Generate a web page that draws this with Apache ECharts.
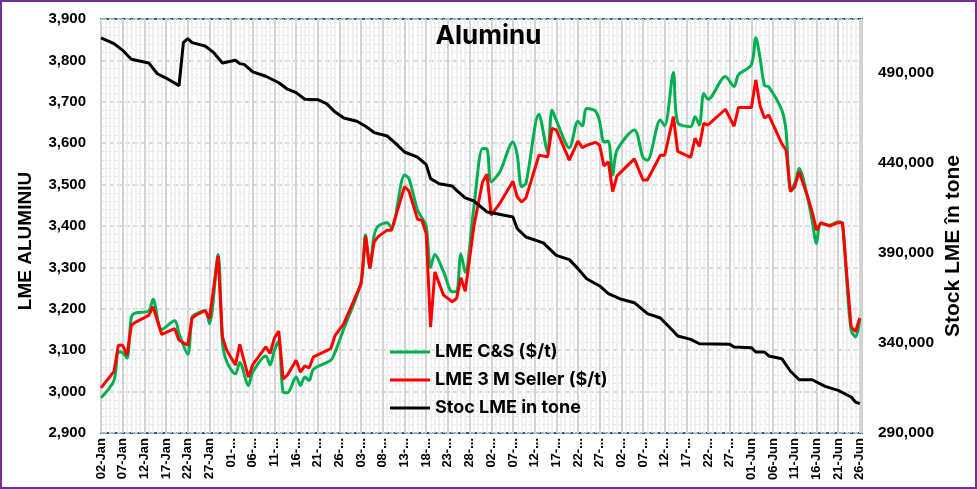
<!DOCTYPE html>
<html>
<head>
<meta charset="utf-8">
<script src="https://cdn.jsdelivr.net/npm/echarts@6/dist/echarts.min.js"></script>
<style>
  html, body { margin: 0; padding: 0; background: #fff; }
  #chart { width: 977px; height: 489px; }
</style>
</head>
<body>
<div id="chart"></div>
<script>
// ---- Data ----
const startDate = '01-02';   // 02-Jan, first day of the date axis
const endDate = '06-26';     // 26-Jun, last day of the date axis

// X tick labels every 5 days, as shown (Excel truncated the middle months)
const tickLabels = [
  '02-Jan','07-Jan','12-Jan','17-Jan','22-Jan','27-Jan',
  '01-...','06-...','11-...','16-...','21-...','26-...',
  '03-...','08-...','13-...','18-...','23-...','28-...',
  '02-...','07-...','12-...','17-...','22-...','27-...',
  '02-...','07-...','12-...','17-...','22-...','27-...',
  '01-Jun','06-Jun','11-Jun','16-Jun','21-Jun','26-Jun'
];

// Price dates (MM-DD) shared by the two price series
const priceDates = [
  '01-02','01-05','01-06','01-07','01-08','01-09','01-10','01-13','01-14','01-16',
  '01-19','01-20','01-22','01-23','01-24','01-26','01-27','01-29','01-30','01-31',
  '02-02','02-03','02-05','02-06','02-09','02-10','02-11','02-12','02-13','02-14',
  '02-16','02-17','02-18','02-19','02-20','02-24','02-25','02-27','03-03','03-04',
  '03-05','03-06','03-07','03-09','03-10','03-13','03-14','03-16','03-17','03-18',
  '03-19','03-20','03-22','03-24','03-25','03-26','03-27','03-29','03-31','04-01',
  '04-02','04-04','04-07','04-08','04-09','04-10','04-13','04-15','04-16','04-17',
  '04-20','04-22','04-23','04-24','04-26','04-27','04-28','04-29','04-30','05-01',
  '05-05','05-07','05-08','05-11','05-12','05-14','05-15','05-18','05-19','05-20',
  '05-21','05-22','05-26','05-28','05-29','06-01','06-02','06-03','06-04','06-05',
  '06-08','06-09','06-10','06-11','06-12','06-14','06-15','06-16','06-17','06-19',
  '06-21','06-22','06-23','06-24','06-25','06-26'
];

// LME C&S ($/t)
const csValues = [
  2985,3027,3096,3094,3081,3180,3190,3195,3223,3150,
  3171,3140,3090,3180,3188,3196,3164,3331,3120,3072,
  3043,3070,3015,3047,3086,3064,3100,3122,2999,2997,
  3035,3015,3035,3027,3054,3076,3096,3152,3265,3378,
  3300,3378,3400,3408,3394,3523,3515,3438,3420,3400,
  3300,3331,3290,3241,3241,3333,3288,3446,3587,3586,
  3507,3531,3603,3571,3495,3503,3670,3579,3680,3655,
  3589,3653,3642,3684,3678,3652,3603,3605,3523,3583,
  3632,3565,3559,3656,3642,3771,3650,3640,3664,3644,
  3720,3706,3761,3737,3765,3790,3855,3805,3740,3736,
  3680,3628,3487,3503,3539,3466,3414,3358,3406,3402,
  3410,3406,3265,3148,3132,3175
];

// LME 3 M Seller ($/t)
const m3Values = [
  3009,3049,3112,3112,3088,3160,3168,3184,3205,3138,
  3152,3124,3112,3178,3185,3196,3176,3328,3132,3100,
  3064,3114,3035,3065,3108,3092,3130,3146,3030,3040,
  3076,3047,3062,3057,3084,3104,3136,3164,3261,3376,
  3297,3362,3375,3390,3390,3495,3485,3416,3414,3382,
  3156,3289,3233,3217,3225,3275,3242,3400,3507,3525,
  3426,3455,3508,3470,3458,3468,3571,3567,3636,3632,
  3559,3605,3589,3595,3602,3595,3545,3555,3483,3521,
  3562,3511,3511,3571,3571,3664,3580,3566,3612,3592,
  3648,3644,3682,3641,3686,3686,3753,3690,3661,3668,
  3599,3583,3483,3495,3531,3470,3434,3390,3408,3400,
  3408,3408,3281,3156,3145,3178
];

// Stoc LME in tone (right axis)
const stockDates = [
  '01-02','01-05','01-07','01-09','01-13','01-15','01-17','01-20','01-21','01-22',
  '01-23','01-26','01-28','01-30','02-02','02-03','02-04','02-06','02-09','02-12',
  '02-14','02-16','02-18','02-21','02-23','02-25','02-27','03-02','03-04','03-06',
  '03-09','03-11','03-13','03-16','03-18','03-19','03-21','03-24','03-25','03-27',
  '03-29','04-01','04-03','04-07','04-08','04-10','04-14','04-17','04-20','04-22',
  '04-24','04-27','04-29','05-02','05-05','05-08','05-11','05-14','05-15','05-18',
  '05-20','05-27','05-28','06-01','06-02','06-04','06-05','06-08','06-10','06-12',
  '06-15','06-18','06-21','06-24','06-25','06-26'
];
const stockValues = [
  509500,506300,502600,497600,495600,489600,487200,483000,506900,509100,
  506900,505000,501300,495600,497100,495200,494800,490600,488200,484600,
  481000,479100,475400,475200,473000,468300,465000,463200,460400,456900,
  455000,450800,446100,443300,439100,431300,428500,427200,424800,420600,
  418900,412800,411900,410000,403500,398900,395600,388700,386300,381300,
  375700,371700,367400,364300,362400,356300,353900,346500,343900,342000,
  339600,339300,337800,337400,335000,335000,332800,331300,324300,319600,
  319600,315900,313700,310000,307200,306300
];

const seriesNames = ['LME C&S ($/t)', 'LME 3 M Seller ($/t)', 'Stoc LME in tone'];

// ---- helpers ----
function dayIndex(mmdd) {
  const [m, d] = mmdd.split('-').map(Number);
  const [m0, d0] = startDate.split('-').map(Number);
  return Math.round((Date.UTC(2025, m - 1, d) - Date.UTC(2025, m0 - 1, d0)) / 86400000);
}
const lastDay = dayIndex(endDate);
const toPairs = (dates, vals) => dates.map((d, i) => [dayIndex(d), vals[i]]);
const fmt = v => Math.round(v).toLocaleString('en-US');

const chart = echarts.init(document.getElementById('chart'), null, { renderer: 'canvas' });

const axisFont = '"Liberation Sans", Arial, sans-serif';
const officeFont = 'Inter, "Open Sans", sans-serif';

chart.setOption({
  backgroundColor: '#ffffff',
  animation: false,
  title: {
    text: 'Aluminu',
    left: 'center',
    top: 18,
    textStyle: { fontFamily: officeFont, fontWeight: 'bold', fontSize: 26, color: '#000' }
  },
  legend: {
    orient: 'vertical',
    left: 385,
    top: 337,
    icon: 'rect',
    itemWidth: 40,
    itemHeight: 3,
    itemGap: 8,
    data: seriesNames,
    textStyle: { fontFamily: officeFont, fontWeight: 'bold', fontSize: 18, lineHeight: 20, color: '#000' }
  },
  grid: {
    left: 101, right: 115, top: 19, bottom: 56,
    show: true,
    backgroundColor: '#ffffff',
    borderColor: '#1F5F7F',
    borderWidth: 2
  },
  xAxis: {
    type: 'value',
    min: 0,
    max: lastDay + 0.5,
    interval: 5,
    axisLine: { show: false },
    axisTick: { show: false },
    minorTick: { show: false, splitNumber: 5 },
    splitLine: { show: true, lineStyle: { color: '#d3d3d3', width: 2 } },
    minorSplitLine: { show: true, lineStyle: { color: '#ebebeb', width: 1.5 } },
    axisLabel: {
      rotate: 90,
      margin: 5,
      showMaxLabel: false,
      fontFamily: axisFont,
      fontWeight: 'bold',
      fontSize: 13,
      color: '#000',
      formatter: v => (Math.abs(v / 5 - Math.round(v / 5)) < 1e-6 ? (tickLabels[Math.round(v / 5)] || '') : '')
    }
  },
  yAxis: [
    {
      type: 'value',
      min: 2900,
      max: 3900,
      interval: 100,
      axisLine: { show: false },
      axisTick: { show: false },
      minorTick: { show: false, splitNumber: 5 },
      splitLine: { show: true, lineStyle: { color: '#cdcdcd', width: 1.5, type: [5, 3] } },
      minorSplitLine: { show: true, lineStyle: { color: '#e6e6e6', width: 1, type: [4, 3] } },
      axisLabel: { margin: 15, fontFamily: axisFont, fontWeight: 'bold', fontSize: 15, color: '#000', formatter: fmt }
    },
    {
      type: 'value',
      min: 290000,
      max: 520000,
      interval: 50000,
      position: 'right',
      axisLine: { show: false },
      axisTick: { show: false },
      splitLine: { show: false },
      axisLabel: { margin: 16, showMaxLabel: false, fontFamily: axisFont, fontWeight: 'bold', fontSize: 15.5, color: '#000',
        formatter: v => (v > 500000 ? '' : fmt(v)) }
    }
  ],
  series: [
    {
      name: seriesNames[0], type: 'line', yAxisIndex: 0,
      data: toPairs(priceDates, csValues),
      showSymbol: false, symbol: 'none', smooth: 0.3,
      lineStyle: { color: '#00B050', width: 3 }, itemStyle: { color: '#00B050' }, z: 2
    },
    {
      name: seriesNames[1], type: 'line', yAxisIndex: 0,
      data: toPairs(priceDates, m3Values),
      showSymbol: false, symbol: 'none',
      lineStyle: { color: '#FF0000', width: 3 }, itemStyle: { color: '#FF0000' }, z: 3
    },
    {
      name: seriesNames[2], type: 'line', yAxisIndex: 1,
      data: toPairs(stockDates, stockValues),
      showSymbol: false, symbol: 'none',
      lineStyle: { color: '#000000', width: 3 }, itemStyle: { color: '#000000' }, z: 4
    }
  ],
  graphic: [
    {
      type: 'rect', silent: true, z: 100,
      shape: { x: 1, y: 1, width: 975, height: 487 },
      style: { fill: 'none', stroke: '#7030A0', lineWidth: 2 }
    },
    {
      type: 'text', x: 26, y: 241, rotation: Math.PI / 2, z: 100,
      style: { text: 'LME ALUMINIU', font: 'bold 19px "Liberation Sans", Arial, sans-serif', fill: '#000', align: 'center', verticalAlign: 'middle' }
    },
    {
      type: 'text', x: 953, y: 246, rotation: Math.PI / 2, z: 100,
      style: { text: 'Stock LME în tone', font: 'bold 21px "Liberation Sans", Arial, sans-serif', fill: '#000', align: 'center', verticalAlign: 'middle' }
    }
  ]
});
</script>
</body>
</html>
